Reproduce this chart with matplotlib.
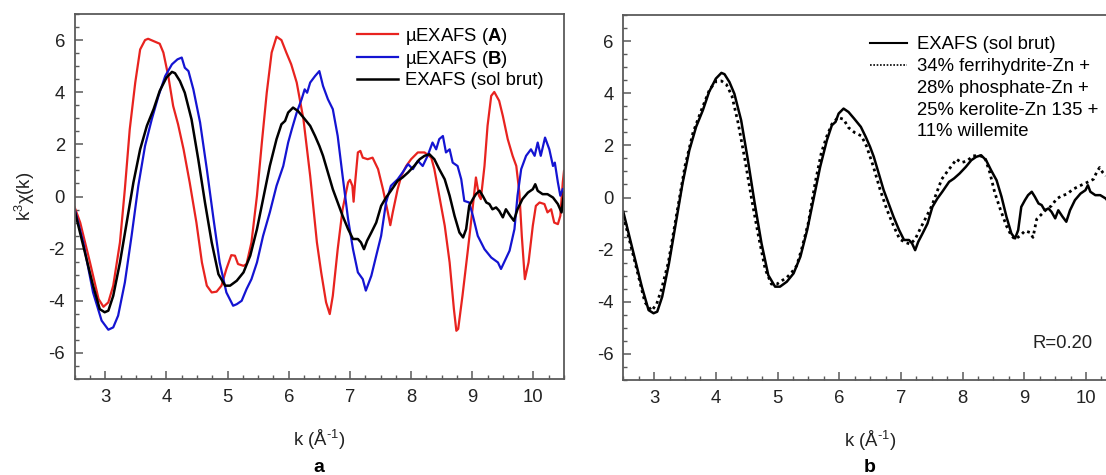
import matplotlib
matplotlib.use("Agg")
import matplotlib.pyplot as plt
from matplotlib.ticker import MultipleLocator
from matplotlib.lines import Line2D

plt.rcParams['font.family'] = ['Liberation Sans', 'DejaVu Sans']
plt.rcParams['mathtext.fontset'] = 'custom'
plt.rcParams['mathtext.rm'] = 'Liberation Sans'
plt.rcParams['mathtext.it'] = 'Liberation Sans:italic'
plt.rcParams['mathtext.bf'] = 'Liberation Sans:bold'
plt.rcParams['mathtext.default'] = 'regular'
plt.rcParams['axes.unicode_minus'] = False

# ---------------- data ----------------
k_A = [2.50,2.59,2.75,2.89,2.97,3.05,3.13,3.24,3.32,3.40,3.49,3.57,3.65,3.70,3.79,3.89,3.95,4.03,4.11,4.19,
       4.28,4.38,4.49,4.58,4.66,4.74,4.82,4.90,4.98,5.06,5.12,5.17,5.26,5.31,5.39,5.48,5.56,5.64,5.72,5.80,
       5.88,5.96,6.04,6.13,6.24,6.35,6.46,6.53,6.61,6.67,6.72,6.80,6.88,6.97,7.00,7.04,7.06,7.08,7.13,7.17,
       7.21,7.29,7.37,7.46,7.54,7.62,7.66,7.70,7.78,7.84,7.92,8.00,8.11,8.22,8.33,8.38,8.46,8.55,8.63,8.70,
       8.74,8.77,8.84,8.93,9.01,9.06,9.11,9.14,9.20,9.25,9.31,9.36,9.44,9.50,9.58,9.66,9.72,9.77,9.81,9.86,
       9.92,9.99,10.04,10.10,10.18,10.23,10.29,10.34,10.40,10.44,10.48,10.50]
chi_A = [-0.42,-1.0,-2.53,-3.93,-4.23,-4.06,-3.42,-1.76,0.28,2.58,4.37,5.64,6.0,6.05,5.96,5.86,5.52,4.62,3.47,2.77,
         1.81,0.54,-1.0,-2.53,-3.42,-3.68,-3.65,-3.42,-2.78,-2.25,-2.27,-2.59,-2.66,-2.59,-1.76,0.03,2.07,3.98,5.52,6.13,
         6.0,5.52,5.07,4.37,2.96,0.79,-1.76,-2.91,-4.06,-4.51,-3.81,-2.02,-0.49,0.54,0.64,0.41,-0.2,0.41,1.69,1.75,
         1.49,1.43,1.49,1.05,0.28,-0.61,-1.1,-0.61,0.28,0.79,1.17,1.43,1.69,1.69,1.49,1.05,0.03,-1.12,-2.53,-4.32,
         -5.15,-5.08,-3.81,-2.02,-0.36,0.73,0.03,-0.1,1.17,2.71,3.86,4.01,3.67,3.09,2.2,1.56,1.17,0.15,-1.51,-3.17,
         -2.53,-1.12,-0.36,-0.23,-0.29,-0.61,-0.49,-1.0,-1.06,-0.74,0.54,0.98]

k_B = [2.50,2.64,2.80,2.94,3.05,3.13,3.21,3.32,3.43,3.54,3.65,3.76,3.87,3.98,4.09,4.18,4.25,4.30,4.36,4.44,
       4.55,4.66,4.77,4.87,4.98,5.09,5.15,5.23,5.31,5.39,5.48,5.58,5.69,5.80,5.91,5.99,6.05,6.13,6.21,6.26,
       6.30,6.35,6.43,6.50,6.56,6.64,6.72,6.80,6.88,6.97,7.05,7.13,7.21,7.26,7.35,7.43,7.51,7.59,7.67,7.78,
       7.86,7.95,8.03,8.11,8.19,8.27,8.35,8.41,8.46,8.52,8.57,8.63,8.68,8.76,8.82,8.87,8.95,9.01,9.09,9.20,
       9.31,9.42,9.47,9.52,9.61,9.69,9.74,9.80,9.88,9.96,10.02,10.07,10.12,10.19,10.26,10.32,10.35,10.40,10.44,10.48]
chi_B = [-0.49,-1.76,-3.68,-4.76,-5.11,-5.02,-4.57,-3.3,-1.51,0.41,1.94,2.96,3.86,4.62,5.07,5.26,5.33,4.94,4.81,4.11,
         2.84,1.05,-0.87,-2.53,-3.68,-4.19,-4.13,-4.0,-3.55,-3.17,-2.53,-1.51,-0.61,0.41,1.17,2.07,2.58,3.22,3.73,4.11,
         3.98,4.37,4.62,4.81,4.24,3.73,3.35,2.32,0.79,-0.87,-2.02,-2.91,-3.17,-3.61,-3.04,-2.27,-1.51,-0.23,0.41,0.66,
         0.92,1.24,1.05,1.37,1.17,1.56,2.07,1.81,2.2,2.32,1.69,1.81,1.30,1.17,0.66,-0.17,-0.23,-0.74,-1.51,-2.02,
         -2.34,-2.53,-2.78,-2.53,-2.08,-1.25,0.03,1.05,1.56,1.81,1.56,2.07,1.56,2.26,1.81,1.17,1.30,0.54,0.03,0.28]

k_soil = [2.50,2.64,2.80,2.91,2.99,3.05,3.13,3.24,3.35,3.46,3.57,3.68,3.79,3.89,4.00,4.09,4.14,4.22,4.30,4.41,
          4.52,4.63,4.74,4.85,4.96,5.04,5.15,5.26,5.37,5.48,5.58,5.69,5.80,5.88,5.94,5.99,6.07,6.15,6.24,6.35,
          6.43,6.50,6.56,6.64,6.72,6.80,6.88,6.97,7.05,7.13,7.18,7.23,7.28,7.35,7.43,7.51,7.59,7.67,7.78,7.86,
          7.95,8.05,8.14,8.22,8.30,8.38,8.46,8.55,8.63,8.71,8.79,8.85,8.90,8.95,9.01,9.06,9.12,9.17,9.23,9.28,
          9.33,9.39,9.44,9.50,9.55,9.62,9.68,9.74,9.82,9.91,9.99,10.03,10.07,10.15,10.23,10.32,10.40,10.46,10.50]
chi_soil = [-0.55,-1.89,-3.42,-4.32,-4.44,-4.38,-3.81,-2.53,-1.0,0.54,1.81,2.71,3.35,4.05,4.56,4.78,4.73,4.43,3.98,2.96,
            1.43,-0.23,-1.76,-2.98,-3.42,-3.42,-3.23,-2.91,-2.27,-1.25,-0.1,1.17,2.2,2.77,2.9,3.22,3.41,3.28,3.03,2.71,
            2.32,1.94,1.56,0.92,0.28,-0.23,-0.74,-1.25,-1.63,-1.63,-1.76,-2.02,-1.70,-1.38,-1.0,-0.36,-0.04,0.22,0.6,0.73,
            0.92,1.17,1.43,1.56,1.62,1.43,1.05,0.66,0.03,-0.74,-1.38,-1.57,-1.25,-0.36,-0.1,0.09,0.22,0.03,-0.23,-0.29,
            -0.49,-0.42,-0.55,-0.8,-0.49,-0.74,-0.93,-0.49,-0.1,0.15,0.28,0.47,0.22,0.09,0.09,-0.04,-0.29,-0.61,0.15]

k_fit = [2.50,2.69,2.85,2.96,3.04,3.12,3.23,3.36,3.50,3.63,3.77,3.90,4.01,4.09,4.17,4.26,4.36,4.47,4.58,4.69,
         4.80,4.90,4.99,5.07,5.15,5.23,5.31,5.39,5.50,5.61,5.71,5.80,5.88,5.98,6.07,6.15,6.25,6.36,6.44,6.55,
         6.66,6.77,6.88,6.98,7.07,7.15,7.23,7.31,7.42,7.50,7.58,7.66,7.74,7.82,7.90,7.98,8.07,8.17,8.28,8.36,
         8.44,8.52,8.61,8.71,8.79,8.85,8.93,9.01,9.09,9.14,9.20,9.28,9.36,9.44,9.52,9.60,9.69,9.79,9.90,10.01,
         10.12,10.17,10.22,10.27,10.32]
chi_fit = [-0.70,-2.49,-4.02,-4.34,-4.09,-3.51,-2.49,-0.70,1.21,2.49,3.38,4.15,4.47,4.47,4.34,3.90,2.87,1.47,-0.06,-1.47,
           -2.75,-3.32,-3.32,-3.19,-3.07,-2.87,-2.62,-1.98,-0.96,0.57,1.72,2.36,2.81,3.07,3.0,2.68,2.49,2.36,1.98,1.21,
           0.32,-0.45,-1.09,-1.60,-1.72,-1.79,-1.60,-1.21,-0.70,-0.32,0.19,0.70,0.96,1.21,1.47,1.34,1.40,1.60,1.60,1.53,
           0.96,0.19,-0.45,-1.09,-1.47,-1.60,-1.47,-1.28,-1.34,-1.53,-0.83,-0.64,-0.45,-0.32,-0.06,0.06,0.13,0.32,0.45,0.57,
           0.70,0.96,1.15,0.96,0.83]

labels_a = ["µEXAFS ($\\mathbf{A}$)", "µEXAFS ($\\mathbf{B}$)", "EXAFS (sol brut)"]
labels_b = ["EXAFS (sol brut)", "34% ferrihydrite-Zn +", "28% phosphate-Zn +",
            "25% kerolite-Zn 135 +", "11% willemite"]
r_text = "R=0.20"
xlabel = "k (Å$^{\\text{-}1}$)"
ylabel = "k$^3$χ(k)"
panel_labels = ["a", "b"]

# ---------------- figure ----------------
W, H = 1106, 475
fig = plt.figure(figsize=(W / 100, H / 100), dpi=100)
ax_a = fig.add_axes([74.7 / W, (H - 379) / H, 489.3 / W, 365 / H])
ax_b = fig.add_axes([623.3 / W, (H - 380) / H, 493.6 / W, 365 / H])

spine_col = '#5a5a5a'
FS = 13.3

def style(ax):
    ax.set_xlim(2.5, 10.5)
    ax.set_ylim(-7, 7)
    ax.xaxis.set_major_locator(MultipleLocator(1))
    ax.xaxis.set_minor_locator(MultipleLocator(0.25))
    ax.yaxis.set_major_locator(MultipleLocator(2))
    ax.yaxis.set_minor_locator(MultipleLocator(0.5))
    ax.tick_params(which='both', direction='in', top=False, right=False,
                   color=spine_col, labelsize=FS, labelcolor='#222222')
    ax.tick_params(which='major', length=6, width=1.1, pad=7)
    ax.tick_params(which='minor', length=3, width=1.0)
    for s in ax.spines.values():
        s.set_color(spine_col)
        s.set_linewidth(1.3)
    ax.set_xlabel(xlabel, fontsize=FS, labelpad=16, color='#222222')

style(ax_a)
style(ax_b)

ax_a.plot(k_A, chi_A, color='#e8231f', lw=1.6, label=labels_a[0])
ax_a.plot(k_B, chi_B, color='#1414d2', lw=1.6, label=labels_a[1])
ax_a.plot(k_soil, chi_soil, color='black', lw=1.8, label=labels_a[2])
ax_a.set_ylabel(ylabel, fontsize=FS, labelpad=8.5, color='#222222')
ax_a.legend(loc='upper left', bbox_to_anchor=(0.577, 0.968), frameon=False,
            fontsize=FS, handlelength=2.2, handletextpad=0.4, labelspacing=0.12,
            borderpad=0, borderaxespad=0)

ax_b.plot(k_soil, chi_soil, color='black', lw=1.8)
ax_b.plot(k_fit, chi_fit, color='black', lw=2.0, linestyle=(0, (1, 1.3)))
hb = [Line2D([], [], color='black', lw=1.5),
      Line2D([], [], color='black', lw=1.2, linestyle=(0, (1, 1))),
      Line2D([], [], linestyle='none'),
      Line2D([], [], linestyle='none'),
      Line2D([], [], linestyle='none')]
ax_b.legend(hb, labels_b, loc='upper left', bbox_to_anchor=(0.4998, 0.942), frameon=False,
            fontsize=FS, handlelength=2.0, handletextpad=0.55, labelspacing=0.26,
            borderpad=0, borderaxespad=0)
ax_b.text(0.889, 0.101, r_text, transform=ax_b.transAxes, fontsize=FS,
          ha='center', va='center', color='#222222')

fig.text(319.3 / W, 1 - 468 / H, panel_labels[0], fontsize=14, fontweight='bold',
         ha='center', va='center')
fig.text(870 / W, 1 - 468 / H, panel_labels[1], fontsize=14, fontweight='bold',
         ha='center', va='center')

fig.savefig('out.png', dpi=100)
